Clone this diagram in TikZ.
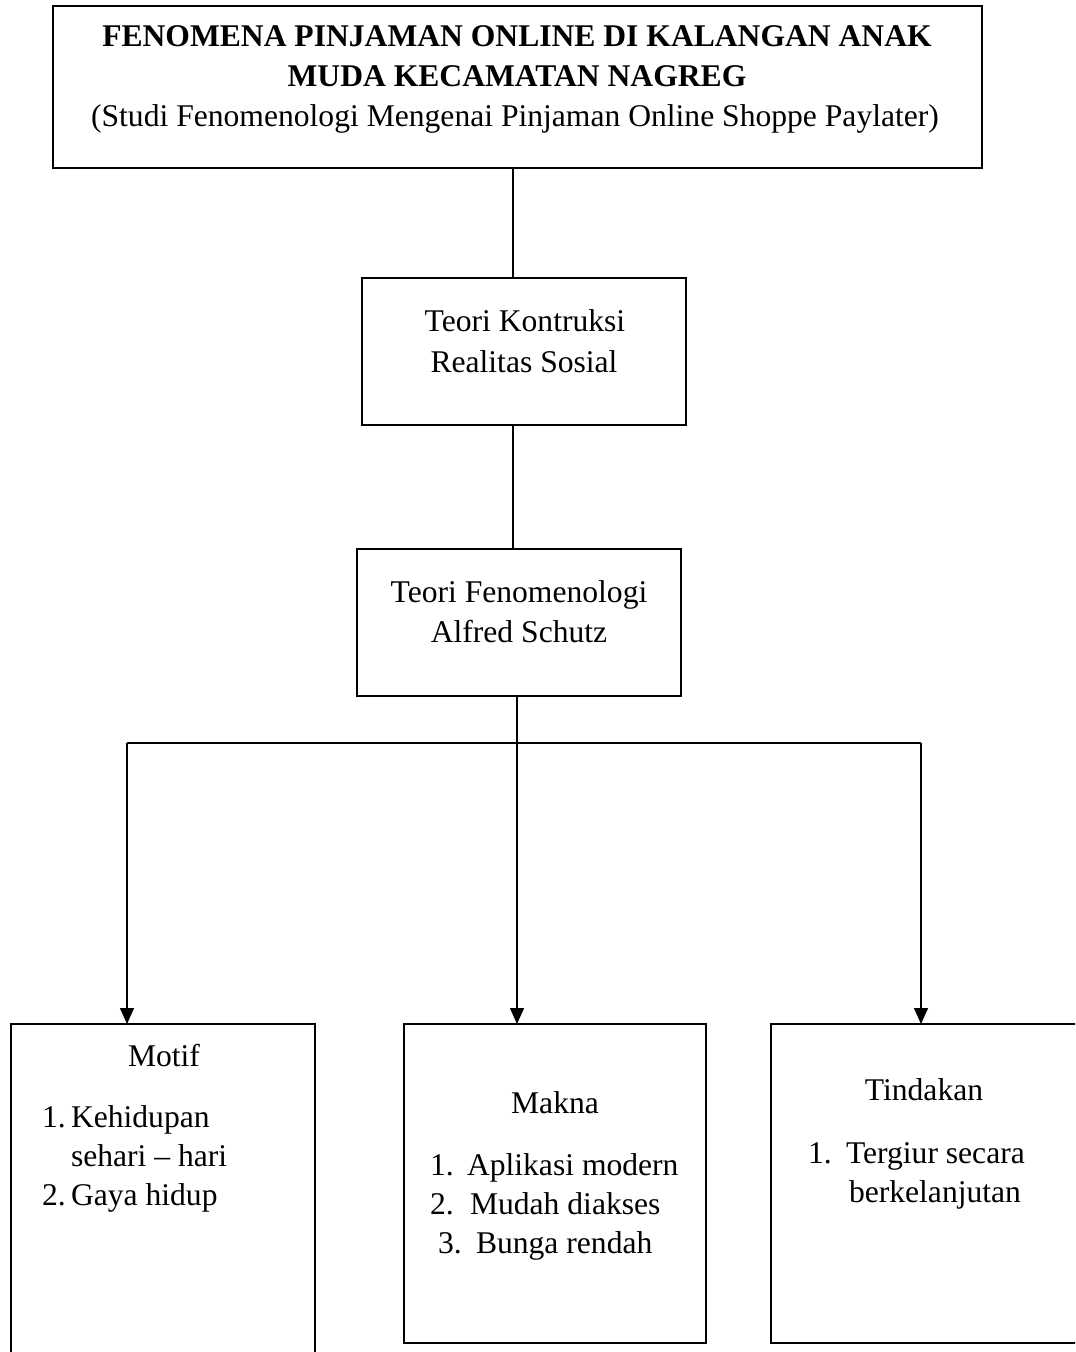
\documentclass[tikz,border=0pt]{standalone}
\usepackage{fontspec}
\setmainfont{Liberation Serif}
\usetikzlibrary{arrows.meta}
\begin{document}
\begin{tikzpicture}[x=0.5pt,y=-0.5pt,
  box/.style={draw,line width=1.3pt,inner sep=0pt,outer sep=0pt},
  txt/.style={font=\fontsize{15.8}{19}\selectfont,inner sep=0pt,outer sep=0pt},
  ttl/.style={font=\fontsize{15.8}{19}\selectfont\bfseries,inner sep=0pt,outer sep=0pt,anchor=base},
  ctr/.style={txt,anchor=base},
  lft/.style={txt,anchor=base west},
  conn/.style={line width=0.7pt},
  arr/.style={conn,-{Triangle[length=8pt,width=7pt]}}]
\useasboundingbox (0,0) rectangle (1075,1352);
\begin{scope}
\clip (0,0) rectangle (1075,1352);
% boxes
\node[box,minimum width=464.5pt,minimum height=81pt] (top) at (517.5,87) {};
\node[box,minimum width=162pt,minimum height=73.5pt] (b2) at (524,351.5) {};
\node[box,minimum width=162pt,minimum height=73.5pt] (b3) at (519,622.5) {};
\node[box,minimum width=152pt,minimum height=173pt] (motif) at (163,1197) {};
\node[box,minimum width=151pt,minimum height=159.5pt] (makna) at (555,1183.5) {};
\node[box,minimum width=159.5pt,minimum height=159.5pt] (tind) at (930.5,1183.5) {};
% title text
\node[ttl] (t1) at (517,47) {FENOMENA PINJAMAN ONLINE DI KALANGAN ANAK};
\node[ttl] (t2) at (517,87) {MUDA KECAMATAN NAGREG};
\node[ctr] (t3) at (515,127) {(Studi Fenomenologi Mengenai Pinjaman Online Shoppe Paylater)};
% middle boxes text
\node[ctr] (k1) at (525,332) {Teori Kontruksi};
\node[ctr] (k2) at (524,372) {Realitas Sosial};
\node[ctr] (f1) at (519,602) {Teori Fenomenologi};
\node[ctr] (f2) at (519,642) {Alfred Schutz};
% motif
\node[ctr] (mo) at (164,1066) {Motif};
\node[lft] (mo1n) at (42,1127) {1.};
\node[lft] (mo1) at (71,1127) {Kehidupan};
\node[lft] (mo1b) at (71,1166) {sehari – hari};
\node[lft] (mo2n) at (42,1205) {2.};
\node[lft] (mo2) at (71,1205) {Gaya hidup};
% makna
\node[ctr] (ma) at (555,1113) {Makna};
\node[lft] (ma1n) at (430,1175) {1.};
\node[lft] (ma1) at (467,1175) {Aplikasi modern};
\node[lft] (ma2n) at (430,1214) {2.};
\node[lft] (ma2) at (470,1214) {Mudah diakses};
\node[lft] (ma3n) at (438,1253) {3.};
\node[lft] (ma3) at (476,1253) {Bunga rendah};
% tindakan
\node[ctr] (ti) at (924,1100) {Tindakan};
\node[lft] (ti1n) at (808,1163) {1.};
\node[lft] (ti1) at (846,1163) {Tergiur secara};
\node[lft] (ti1b) at (849,1202) {berkelanjutan};
% connectors
\coordinate (jL) at (127,743);
\coordinate (jM) at (517,743);
\coordinate (jR) at (921,743);
\draw[conn] ([xshift=-5.5pt]b2.north |- top.south) -- ([xshift=-5.5pt]b2.north);
\draw[conn] ([xshift=-5.5pt]b2.south) -- ([xshift=-5.5pt]b2.south |- b3.north);
\draw[conn] (b3.south -| jM) -- (jM);
\draw[conn] (jL) -- (jR);
\draw[arr] (jL) -- (jL |- motif.north);
\draw[arr] (jM) -- (jM |- makna.north);
\draw[arr] (jR) -- (jR |- tind.north);
\end{scope}
\end{tikzpicture}
\end{document}
